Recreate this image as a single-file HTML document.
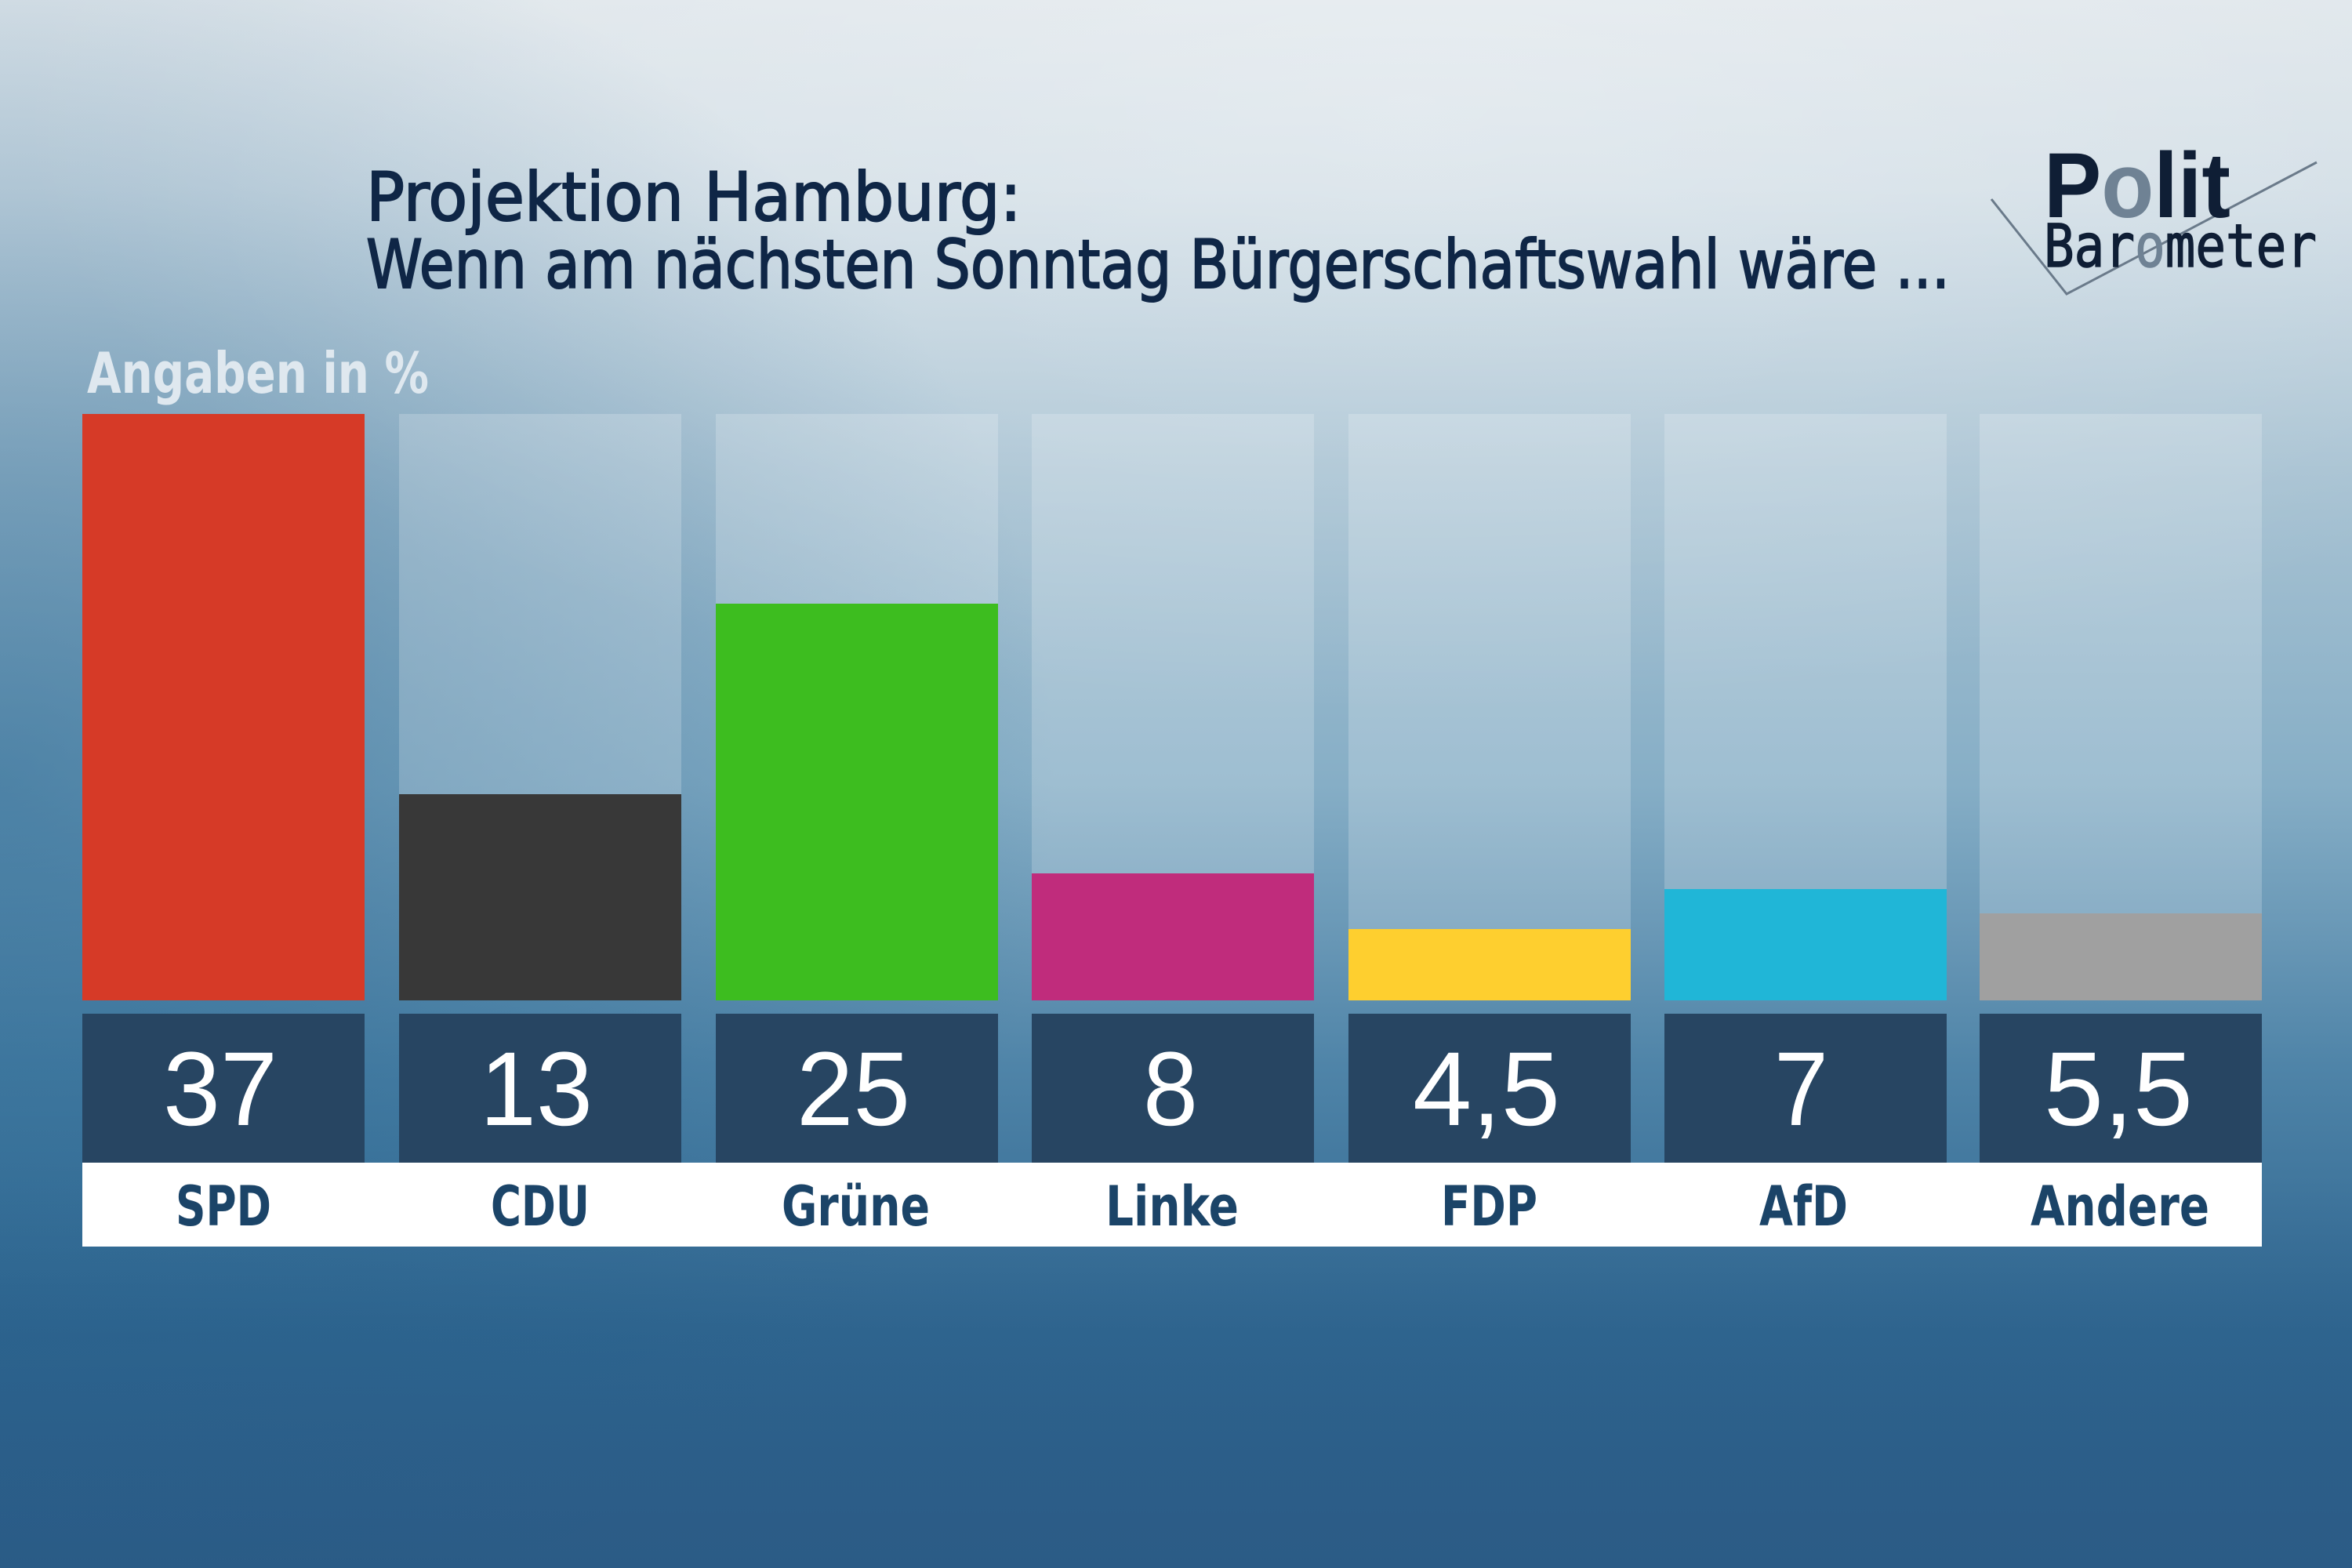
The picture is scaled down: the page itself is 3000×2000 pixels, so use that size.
<!DOCTYPE html>
<html><head><meta charset="utf-8"><style>html,body{margin:0;padding:0;}svg{display:block}</style></head>
<body>
<svg xmlns="http://www.w3.org/2000/svg" width="3000" height="2000" viewBox="0 0 3000 2000">
<defs>
<linearGradient id="bg" x1="0" y1="0" x2="0" y2="1">
<stop offset="0" stop-color="#dfe6eb"/>
<stop offset="0.12" stop-color="#d2dee6"/>
<stop offset="0.3" stop-color="#a9c3d3"/>
<stop offset="0.5" stop-color="#86aec6"/>
<stop offset="0.68" stop-color="#4f84a8"/>
<stop offset="0.85" stop-color="#2f6690"/>
<stop offset="1" stop-color="#2b5b86"/>
</linearGradient>
<radialGradient id="leftdark" cx="0" cy="0.5" r="0.45" gradientTransform="translate(0,0.5) scale(1,1.3) translate(0,-0.5)">
<stop offset="0" stop-color="#1f5f8c" stop-opacity="0.55"/>
<stop offset="1" stop-color="#1f5f8c" stop-opacity="0"/>
</radialGradient>
<linearGradient id="fade" x1="0" y1="0" x2="0" y2="1">
<stop offset="0" stop-color="#2b5b86" stop-opacity="0"/>
<stop offset="1" stop-color="#2b5b86" stop-opacity="0.5"/>
</linearGradient>
<radialGradient id="hl" cx="0.6" cy="0.1" r="0.6">
<stop offset="0" stop-color="#ffffff" stop-opacity="0.3"/>
<stop offset="1" stop-color="#ffffff" stop-opacity="0"/>
</radialGradient>
</defs>
<rect width="3000" height="2000" fill="url(#bg)"/>
<rect width="3000" height="2000" fill="url(#leftdark)"/>
<rect y="1500" width="3000" height="500" fill="url(#fade)"/>
<rect width="3000" height="1300" fill="url(#hl)"/>

<g font-family="DejaVu Sans, Liberation Sans, sans-serif" fill="#0f2646" stroke="#0f2646" stroke-width="2">
<text x="467" y="281" font-size="86" textLength="836" lengthAdjust="spacingAndGlyphs">Projektion Hamburg:</text>
<text x="467" y="367" font-size="86" textLength="2020" lengthAdjust="spacingAndGlyphs">Wenn am nächsten Sonntag Bürgerschaftswahl wäre ...</text>
</g>
<text x="111" y="501" font-family="DejaVu Sans, sans-serif" font-weight="bold" font-size="72" fill="#dfe8ef" textLength="436" lengthAdjust="spacingAndGlyphs">Angaben in %</text>

<polyline points="2540,254 2636,375 2955,207" fill="none" stroke="#6a7a8a" stroke-width="3"/>
<text x="2607" y="277" font-family="Liberation Sans, sans-serif" font-weight="bold" font-size="118" fill="#0f1e35" textLength="238" lengthAdjust="spacingAndGlyphs">P<tspan fill="#6f8294">o</tspan>lit</text>
<text x="2607" y="340" font-family="DejaVu Sans Mono, monospace" font-size="76" fill="#0f1e35" stroke="#0f1e35" stroke-width="1.5" textLength="348" lengthAdjust="spacingAndGlyphs">Bar<tspan fill="#6f8294" stroke="#6f8294">o</tspan>meter</text>

<g fill="#ffffff" fill-opacity="0.2">
<rect x="105" y="528" width="360" height="748"/>
<rect x="509" y="528" width="360" height="748"/>
<rect x="913" y="528" width="360" height="748"/>
<rect x="1316" y="528" width="360" height="748"/>
<rect x="1720" y="528" width="360" height="748"/>
<rect x="2123" y="528" width="360" height="748"/>
<rect x="2525" y="528" width="360" height="748"/>
</g>
<rect x="105" y="528" width="360" height="748" fill="#d63a27"/>
<rect x="509" y="1013" width="360" height="263" fill="#383838"/>
<rect x="913" y="770" width="360" height="506" fill="#3dbd1f"/>
<rect x="1316" y="1114" width="360" height="162" fill="#c02c7c"/>
<rect x="1720" y="1185" width="360" height="91" fill="#fecf2f"/>
<rect x="2123" y="1134" width="360" height="142" fill="#20b6d7"/>
<rect x="2525" y="1165" width="360" height="111" fill="#a0a0a0"/>

<g fill="#274562">
<rect x="105" y="1293" width="360" height="190"/>
<rect x="509" y="1293" width="360" height="190"/>
<rect x="913" y="1293" width="360" height="190"/>
<rect x="1316" y="1293" width="360" height="190"/>
<rect x="1720" y="1293" width="360" height="190"/>
<rect x="2123" y="1293" width="360" height="190"/>
<rect x="2525" y="1293" width="360" height="190"/>
</g>
<rect x="105" y="1483" width="2780" height="107" fill="#ffffff"/>

<g font-family="Liberation Sans, sans-serif" font-size="134" fill="#ffffff">
<text x="208" y="1435" textLength="146" lengthAdjust="spacingAndGlyphs">37</text>
<text x="612" y="1435" textLength="144" lengthAdjust="spacingAndGlyphs">13</text>
<text x="1016" y="1435" textLength="145" lengthAdjust="spacingAndGlyphs">25</text>
<text x="1458" y="1435" textLength="70" lengthAdjust="spacingAndGlyphs">8</text>
<text x="1802" y="1435" textLength="188" lengthAdjust="spacingAndGlyphs">4,5</text>
<text x="2263" y="1435" textLength="69" lengthAdjust="spacingAndGlyphs">7</text>
<text x="2607" y="1435" textLength="190" lengthAdjust="spacingAndGlyphs">5,5</text>
</g>
<g font-family="DejaVu Sans, sans-serif" font-weight="bold" font-size="70" fill="#1b4468">
<text x="224" y="1563" textLength="122" lengthAdjust="spacingAndGlyphs">SPD</text>
<text x="626" y="1563" textLength="126" lengthAdjust="spacingAndGlyphs">CDU</text>
<text x="997" y="1563" textLength="189" lengthAdjust="spacingAndGlyphs">Grüne</text>
<text x="1410" y="1563" textLength="170" lengthAdjust="spacingAndGlyphs">Linke</text>
<text x="1838" y="1563" textLength="123" lengthAdjust="spacingAndGlyphs">FDP</text>
<text x="2244" y="1563" textLength="113" lengthAdjust="spacingAndGlyphs">AfD</text>
<text x="2590" y="1563" textLength="228" lengthAdjust="spacingAndGlyphs">Andere</text>
</g>
</svg>
</body></html>
